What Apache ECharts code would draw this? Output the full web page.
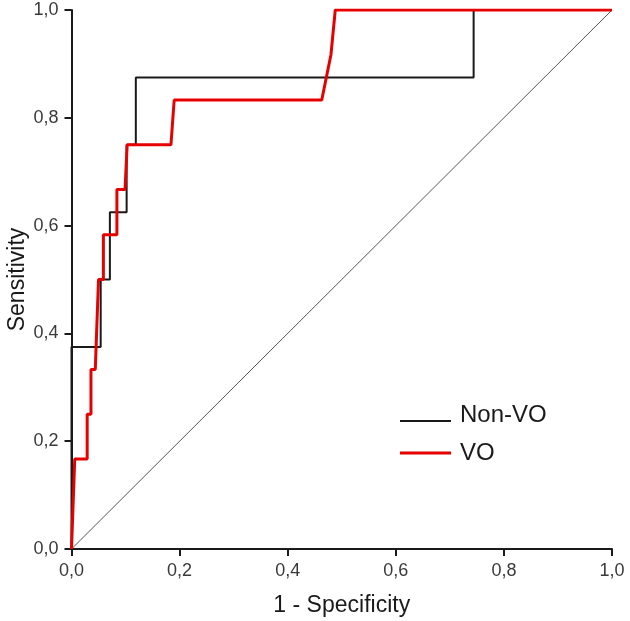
<!DOCTYPE html>
<html>
<head>
<meta charset="utf-8">
<script src="https://cdn.jsdelivr.net/npm/echarts@6/dist/echarts.min.js"></script>
<style>html,body{margin:0;padding:0;background:#fff}#c{width:630px;height:621px}</style>
</head>
<body>
<div id="c"></div>
<script>
// Tick labels
var xTicks = [0, 0.2, 0.4, 0.6, 0.8, 1.0];
var yTicks = [0, 0.2, 0.4, 0.6, 0.8, 1.0];
// Non-VO ROC curve (1 - specificity, sensitivity)
var nonVoFpr = [0, 0, 0.054, 0.054, 0.071, 0.071, 0.102, 0.102, 0.119, 0.119, 0.744, 0.744, 1.0];
var nonVoTpr = [0, 0.375, 0.375, 0.5, 0.5, 0.625, 0.625, 0.75, 0.75, 0.875, 0.875, 1.0, 1.0];
// VO ROC curve
var voFpr = [0, 0.006, 0.029, 0.029, 0.036, 0.036, 0.044, 0.047, 0.050, 0.059, 0.059, 0.084, 0.084, 0.099, 0.103, 0.184, 0.190, 0.463, 0.480, 0.488, 1.0];
var voTpr = [0, 0.167, 0.167, 0.25, 0.25, 0.333, 0.333, 0.417, 0.5, 0.5, 0.583, 0.583, 0.667, 0.667, 0.75, 0.75, 0.833, 0.833, 0.917, 1.0, 1.0];
// Reference diagonal
var refX = [0, 1];
var refY = [0, 1];

function zip(a, b) { return a.map(function (v, i) { return [v, b[i]]; }); }
function fmt(v) { return v.toFixed(1).replace('.', ','); }

var FONT = 'Liberation Sans, Arial, sans-serif';
var chart = echarts.init(document.getElementById('c'), null, {renderer: 'canvas'});
var axisCommon = {
  type: 'value', min: 0, max: 1, interval: 0.2,
  nameLocation: 'middle',
  nameMoveOverlap: false,
  nameTextStyle: {fontFamily: FONT, fontSize: 23, color: '#1a1a1a'},
  axisLine: {show: true, onZero: false, lineStyle: {color: '#1a1a1a', width: 2}},
  axisTick: {show: true, inside: false, length: 7, lineStyle: {color: '#1a1a1a', width: 2}},
  splitLine: {show: false},
  axisLabel: {fontFamily: FONT, fontSize: 18, color: '#3a3a3a', formatter: fmt}
};
var legendText = {fontFamily: FONT, fontSize: 24, color: '#1a1a1a', padding: [0, 0, 0, 4]};
chart.setOption({
  animation: false,
  backgroundColor: '#ffffff',
  grid: {left: 71.5, top: 10, width: 540.5, height: 539, containLabel: false, outerBoundsMode: 'none'},
  xAxis: Object.assign({}, axisCommon, {name: '1 - Specificity', nameGap: 45,
    axisLabel: Object.assign({}, axisCommon.axisLabel, {margin: 13})}),
  yAxis: Object.assign({}, axisCommon, {name: 'Sensitivity', nameGap: 42,
    axisLabel: Object.assign({}, axisCommon.axisLabel, {margin: 13})}),
  legend: [
    {
      data: ['Non-VO'], left: 400, top: 403, padding: 0,
      itemWidth: 51, itemHeight: 14, itemGap: 8,
      icon: 'path://M0,0L51,0L51,0.01L0,0.01ZM0,12L51,12L51,14L0,14Z',
      itemStyle: {borderWidth: 0},
      textStyle: legendText
    },
    {
      data: ['VO'], left: 400, top: 441, padding: 0,
      itemWidth: 51, itemHeight: 3, itemGap: 8,
      icon: 'rect',
      itemStyle: {borderWidth: 0},
      textStyle: legendText
    }
  ],
  series: [
    {name: 'ref', type: 'line', data: zip(refX, refY), showSymbol: false, silent: true,
     lineStyle: {color: '#555555', width: 1}, z: 1},
    {name: 'Non-VO', type: 'line', data: zip(nonVoFpr, nonVoTpr), showSymbol: false,
     itemStyle: {color: '#1a1a1a'}, lineStyle: {color: '#1a1a1a', width: 2}, z: 2},
    {name: 'VO', type: 'line', data: zip(voFpr, voTpr), showSymbol: false,
     itemStyle: {color: '#e60000'}, lineStyle: {color: '#e60000', width: 3}, z: 3}
  ]
});
</script>
</body>
</html>
